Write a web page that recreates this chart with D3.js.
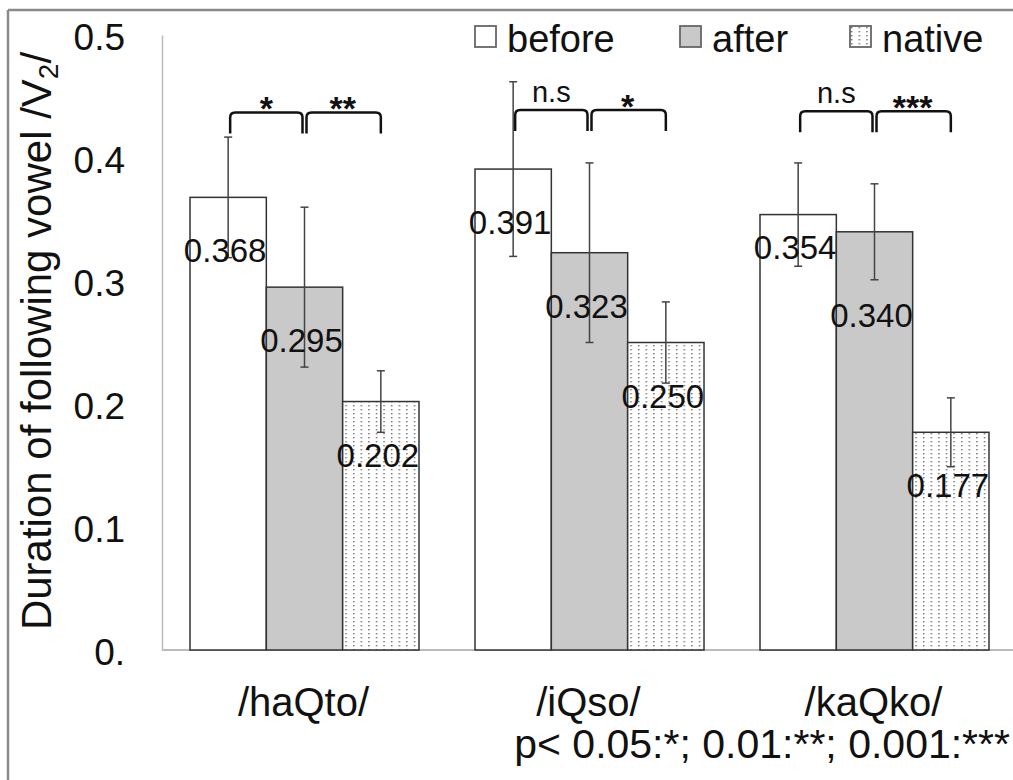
<!DOCTYPE html>
<html>
<head>
<meta charset="utf-8">
<script src="https://cdn.jsdelivr.net/npm/d3@7"></script>
<style>
  body { margin: 0; background: #fff; }
  svg { display: block; font-family: "Liberation Sans", Arial, sans-serif; }
</style>
</head>
<body>
<svg id="chart" width="1013" height="780"></svg>
<script>
// 数据
const categories = ["/haQto/", "/iQso/", "/kaQko/"];
const seriesNames = ["before", "after", "native"];
const beforeVals = [0.368, 0.391, 0.354];
const afterVals = [0.295, 0.323, 0.340];
const nativeVals = [0.202, 0.250, 0.177];
// 标准差（误差线）
const beforeSd = [0.049, 0.071, 0.042];
const afterSd = [0.065, 0.073, 0.039];
const nativeSd = [0.025, 0.033, 0.028];
// 显著性标注
const sigLeft = ["*", "n.s", "n.s"];
const sigRight = ["**", "*", "***"];
const bracketLevel = [0.437, 0.439, 0.438];
const tickValues = [0, 0.1, 0.2, 0.3, 0.4, 0.5];
const tickLabels = ["0.", "0.1", "0.2", "0.3", "0.4", "0.5"];

const values = [beforeVals, afterVals, nativeVals];
const sds = [beforeSd, afterSd, nativeSd];

const svg = d3.select("#chart");

// 图案：点状填充
const defs = svg.append("defs");
const pat = defs.append("pattern")
    .attr("id", "dots")
    .attr("patternUnits", "userSpaceOnUse")
    .attr("width", 7.6)
    .attr("height", 4);
pat.append("rect").attr("width", 7.6).attr("height", 4).attr("fill", "#fff");
pat.append("rect").attr("x", 1).attr("y", 1).attr("width", 1.4).attr("height", 1.4).attr("fill", "#6a6a6a");

const fills = ["#ffffff", "#c9c9c9", "url(#dots)"];

// 外框
svg.append("line").attr("x1", 8).attr("x2", 1013).attr("y1", 10).attr("y2", 10)
    .attr("stroke", "#8a8a8a").attr("stroke-width", 2.5);
svg.append("line").attr("x1", 8).attr("x2", 8).attr("y1", 10).attr("y2", 780)
    .attr("stroke", "#8a8a8a").attr("stroke-width", 2.5);

// 比例尺
const x0 = d3.scaleBand().domain(categories).range([162, 1017]);
const x1 = d3.scaleBand().domain(seriesNames).range([28, 257]);
const y = d3.scaleLinear().domain([0, 0.5]).range([650, 35]);

// Y 轴
const yAxis = svg.append("g")
    .attr("transform", "translate(162,0)")
    .call(d3.axisLeft(y).tickValues(tickValues)
        .tickFormat((d, i) => tickLabels[i]).tickSize(0).tickPadding(37));
yAxis.select(".domain").attr("stroke", "#bbb").attr("stroke-width", 1.5);
yAxis.selectAll("text")
    .attr("font-size", 37)
    .attr("font-family", "Liberation Sans, Arial, sans-serif")
    .attr("fill", "#111")
    .attr("dy", "0.4em");

// 基线
svg.append("line").attr("x1", 162).attr("x2", 1013)
    .attr("y1", y(0)).attr("y2", y(0))
    .attr("stroke", "#bbb").attr("stroke-width", 2);

// Y 轴标题
const yTitle = svg.append("text")
    .attr("transform", "translate(51,341) rotate(-90)")
    .attr("text-anchor", "middle")
    .attr("font-size", 42)
    .attr("fill", "#111");
yTitle.append("tspan").text("Duration of following vowel /V");
yTitle.append("tspan").attr("font-size", 28).attr("dy", 7).text("2");
yTitle.append("tspan").attr("dy", -7).text("/");

// 柱子
const groups = svg.selectAll("g.group")
    .data(categories)
    .join("g")
    .attr("class", "group")
    .attr("transform", d => `translate(${x0(d)},0)`);

groups.each(function(cat, ci) {
    const g = d3.select(this);
    seriesNames.forEach((s, si) => {
        const v = values[si][ci];
        g.append("rect")
            .attr("x", x1(s))
            .attr("y", y(v))
            .attr("width", x1.bandwidth())
            .attr("height", y(0) - y(v))
            .attr("fill", fills[si])
            .attr("stroke", "#333")
            .attr("stroke-width", 1.5);
    });
    // 误差线
    seriesNames.forEach((s, si) => {
        const v = values[si][ci], sd = sds[si][ci];
        const cx = x1(s) + x1.bandwidth() / 2;
        const eb = g.append("g").attr("stroke", "#444").attr("stroke-width", 1.5);
        eb.append("line").attr("x1", cx).attr("x2", cx).attr("y1", y(v + sd)).attr("y2", y(v - sd));
        eb.append("line").attr("x1", cx - 4).attr("x2", cx + 4).attr("y1", y(v + sd)).attr("y2", y(v + sd));
        eb.append("line").attr("x1", cx - 4).attr("x2", cx + 4).attr("y1", y(v - sd)).attr("y2", y(v - sd));
    });
    // 数值标签（相邻标签太近时上下错开）
    const labelY = seriesNames.map((s, si) => y(values[si][ci]) + 65);
    for (let i = 0; i < labelY.length - 1; i++) {
        if (Math.abs(labelY[i + 1] - labelY[i]) < 30) {
            labelY[i] -= 21;
            labelY[i + 1] += 30;
        }
    }
    seriesNames.forEach((s, si) => {
        const v = values[si][ci];
        g.append("text")
            .attr("x", x1(s) + x1.bandwidth() / 2 - 3)
            .attr("y", labelY[si])
            .attr("text-anchor", "middle")
            .attr("font-size", 33)
            .attr("fill", "#111")
            .text(v.toFixed(3));
    });
    // 显著性括号
    const top = y(bracketLevel[ci]);
    const drop = 21;
    const bracket = (xa, xb) => {
        const r = 5;
        return `M${xa},${top + drop} L${xa},${top + r} Q${xa},${top} ${xa + r},${top}` +
            ` L${xb - r},${top} Q${xb},${top} ${xb},${top + r} L${xb},${top + drop}`;
    };
    const cB = x1("before") + x1.bandwidth() / 2;
    const cA = x1("after") + x1.bandwidth() / 2;
    const cN = x1("native") + x1.bandwidth() / 2;
    g.append("path").attr("d", bracket(cB + 2, cA - 2))
        .attr("fill", "none").attr("stroke", "#111").attr("stroke-width", 2.5);
    g.append("path").attr("d", bracket(cA + 2, cN))
        .attr("fill", "none").attr("stroke", "#111").attr("stroke-width", 2.5);
    [[sigLeft[ci], (cB + cA) / 2], [sigRight[ci], (cA + cN) / 2]].forEach(([lab, lx]) => {
        const star = lab.startsWith("*");
        g.append("text")
            .attr("x", lx)
            .attr("y", star ? top + 8 : top - 8)
            .attr("text-anchor", "middle")
            .attr("font-size", star ? 34 : 29)
            .attr("font-weight", star ? "bold" : "normal")
            .attr("fill", "#111")
            .text(lab);
    });
});

// X 轴类别标签
svg.selectAll("text.cat")
    .data(categories)
    .join("text")
    .attr("class", "cat")
    .attr("x", d => x0(d) + x0.bandwidth() / 2 - 1)
    .attr("y", 716)
    .attr("text-anchor", "middle")
    .attr("font-size", 40)
    .attr("fill", "#111")
    .text(d => d);

// 图例
const legendX = [475, 680, 850];
const legend = svg.selectAll("g.legend")
    .data(seriesNames)
    .join("g")
    .attr("class", "legend")
    .attr("transform", (d, i) => `translate(${legendX[i]},26)`);
legend.append("rect")
    .attr("width", 21).attr("height", 21)
    .attr("fill", (d, i) => fills[i])
    .attr("stroke", "#666").attr("stroke-width", 1.8);
legend.append("text")
    .attr("x", 32).attr("y", 26)
    .attr("font-size", 38)
    .attr("fill", "#111")
    .text(d => d);

// 显著性说明
svg.append("text")
    .attr("x", 1010).attr("y", 758)
    .attr("text-anchor", "end")
    .attr("font-size", 41)
    .attr("fill", "#111")
    .text("p< 0.05:*; 0.01:**; 0.001:***");
</script>
</body>
</html>
